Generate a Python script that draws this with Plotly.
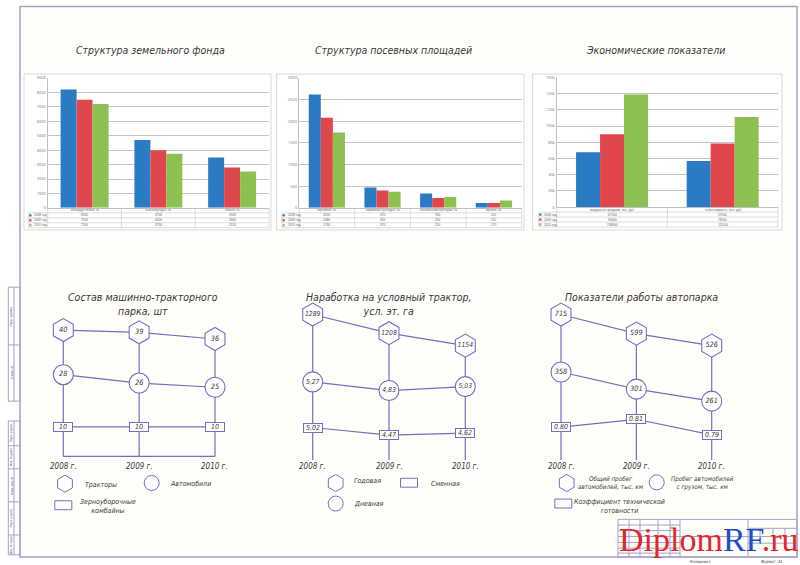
import plotly.graph_objects as go

W, H = 800, 565

# ---------------- top bar charts: data ----------------
series_names = ['2008 год', '2009 год', '2010 год']
bar_colors = ['#2b7bc4', '#e0474c', '#8cc152']

land_cats = ['площадь земли, га', 'сельхозугодья, га', 'пашня, га']
land_2008 = [8200, 4700, 3500]
land_2009 = [7500, 4000, 2800]
land_2010 = [7200, 3750, 2520]

crop_cats = ['зерновые, га', 'кормовые культуры, га', 'технические культуры, га', 'прочие, га']
crop_2008 = [2620, 470, 330, 110]
crop_2009 = [2080, 400, 230, 110]
crop_2010 = [1740, 370, 250, 170]

econ_cats = ['выручка от продажи, тыс. руб', 'себестоимость, тыс. руб']
econ_2008 = [67550, 57000]
econ_2009 = [90000, 78500]
econ_2010 = [138900, 111100]

# ---------------- bottom diagrams: data ----------------
diag_years = [2008, 2009, 2010]
year_labels = ['2008 г.', '2009 г.', '2010 г.']

mtp_tractors = [40, 39, 36]
mtp_cars = [28, 26, 25]
mtp_combines = [10, 10, 10]

work_year = [1289, 1208, 1154]
work_day = [5.27, 4.83, 5.03]
work_shift = [5.02, 4.47, 4.62]

auto_total = [715, 599, 526]
auto_cargo = [358, 301, 261]
auto_ktg = [0.80, 0.81, 0.79]

# ---------------- styles ----------------
LINE = '#6f6fc4'
FRAME = '#a3a3c8'
TXT = '#383838'
GOST = 'DejaVu Sans Condensed, DejaVu Sans, sans-serif'

fig = go.Figure()
shapes = []
notes = []


def px(x):
    return x / W


def py(y):
    return 1 - y / H


# page decorations are placed in paper units converted from pixels
def line(x0, y0, x1, y1, color=FRAME, width=1):
    shapes.append(dict(type='line', xref='paper', yref='paper', x0=px(x0), y0=py(y0), x1=px(x1), y1=py(y1),
                       line=dict(color=color, width=width)))


def rect(x0, y0, x1, y1, color=FRAME, width=1, fill=None, layer='above'):
    shapes.append(dict(type='rect', xref='paper', yref='paper', x0=px(x0), y0=py(y0), x1=px(x1), y1=py(y1),
                       line=dict(color=color, width=width), fillcolor=fill, layer=layer))


def text(x, y, s, size=8, color=TXT, anchor='center', italic=True, family=GOST, angle=0):
    notes.append(dict(xref='paper', yref='paper', x=px(x), y=py(y), text=('<i>%s</i>' % s) if italic else s,
                      showarrow=False, xanchor=anchor, yanchor='middle', textangle=angle,
                      font=dict(size=size, color=color, family=family)))


# ---------------- page frame ----------------
rect(20, 3.5, 797, 559, color=FRAME, width=1.5, fill='#fffefa', layer='below')

# left stamp column
rect(8.3, 286.7, 20, 401.7)
line(8.3, 345, 20, 345)
line(14, 286.7, 14, 401.7)
rect(8.3, 421.7, 20, 556.7)
for yy in [446.7, 470, 503.3, 536.7]:
    line(8.3, yy, 20, yy)
line(14, 421.7, 14, 556.7)
for yy, s in [(316, 'Перв. примен.'), (373, 'Справ. №'), (434, 'Подп. и дата'),
              (458, 'Инв. № дубл.'), (487, 'Взам. инв. №'), (520, 'Подп. и дата'),
              (547, 'Инв. № подл.')]:
    text(11.2, yy, s, size=3, angle=-90)

# title block
rect(618, 521, 797, 559)
for xx in [629, 640, 658, 670, 680]:
    line(xx, 521, xx, 559)
for yy in [526.7, 532.3, 538.3, 544.3, 550, 555]:
    line(618, yy, 680, yy)
line(748, 521, 748, 559)
line(680, 538.3, 797, 538.3)
line(748, 530, 797, 530)
for xx in [760, 773, 785]:
    line(xx, 530, xx, 538.3)
line(748, 545, 797, 545)
text(700, 563, 'Копировал', size=4)
text(771.7, 563, 'Формат  A1', size=4)

# ---------------- top bar charts ----------------
bar_charts = [
    dict(n='', cats=land_cats, vals=[land_2008, land_2009, land_2010], rng=[0, 9000], dt=1000,
         ax0=47.7, ax1=269, top=75.7, bot=206.7, tl=28.3, panel=(24, 71.7, 271, 229),
         title='Структура земельного фонда', tx=150),
    dict(n='2', cats=crop_cats, vals=[crop_2008, crop_2009, crop_2010], rng=[0, 3000], dt=500,
         ax0=299, ax1=521.7, top=75.7, bot=206.7, tl=281.7, panel=(276.7, 71.7, 524, 229),
         title='Структура посевных площадей', tx=393),
    dict(n='3', cats=econ_cats, vals=[econ_2008, econ_2009, econ_2010], rng=[0, 160000], dt=20000,
         ax0=556.7, ax1=778, top=75, bot=206, tl=538.3, panel=(532.7, 71.7, 782, 229),
         title='Экономические показатели', tx=655),
]

layout_axes = {}
for bc in bar_charts:
    n = bc['n']
    p = bc['panel']
    rect(p[0], p[1], p[2], p[3], color='#d9d9d9', width=1, fill='white', layer='below')
    text(bc['tx'], 47, bc['title'], size=10.5)
    for vals, name, col in zip(bc['vals'], series_names, bar_colors):
        fig.add_trace(go.Bar(x=bc['cats'], y=vals, name=name, marker=dict(color=col, line=dict(width=0)),
                             xaxis='x' + n, yaxis='y' + n, showlegend=False))
    layout_axes['xaxis' + n] = dict(domain=[px(bc['ax0']), px(bc['ax1'])], anchor='y' + n,
                                    showticklabels=False, showline=True, linecolor='#bfbfbf',
                                    showgrid=False, zeroline=False, fixedrange=True)
    layout_axes['yaxis' + n] = dict(domain=[py(bc['bot']), py(bc['top'])], anchor='x' + n,
                                    range=bc['rng'], dtick=bc['dt'], showgrid=True,
                                    gridcolor='#c4c4c4', gridwidth=0.7, showline=True,
                                    linecolor='#bfbfbf', zeroline=False, ticks='',
                                    tickfont=dict(size=4, color='#777777'), fixedrange=True)
    # data table under the plot
    r0 = bc['bot']
    rh = 5
    ncat = len(bc['cats'])
    cw = (bc['ax1'] - bc['ax0']) / ncat
    for k in range(1, 5):
        line(bc['tl'], r0 + k * rh, bc['ax1'], r0 + k * rh, color='#c8c8c8', width=0.6)
    line(bc['tl'], r0 + rh, bc['tl'], r0 + 4 * rh, color='#c8c8c8', width=0.6)
    for j in range(ncat + 1):
        line(bc['ax0'] + j * cw, r0, bc['ax0'] + j * cw, r0 + 4 * rh, color='#c8c8c8', width=0.6)
    for j, c in enumerate(bc['cats']):
        text(bc['ax0'] + (j + 0.5) * cw, r0 + rh / 2, c, size=3.2, color='#666666', italic=False,
             family='Liberation Sans, sans-serif')
    for i, (vals, name, col) in enumerate(zip(bc['vals'], series_names, bar_colors)):
        yy = r0 + (i + 1.5) * rh
        rect(bc['tl'] + 1, yy - 1, bc['tl'] + 3, yy + 1, color=col, width=0.3, fill=col)
        text(bc['tl'] + 4, yy, name, size=3.2, color='#666666', anchor='left', italic=False,
             family='Liberation Sans, sans-serif')
        for j, v in enumerate(vals):
            text(bc['ax0'] + (j + 0.5) * cw, yy, str(v), size=3.2, color='#666666', italic=False,
                 family='Liberation Sans, sans-serif')

# ---------------- bottom diagrams ----------------
def fmt_int(v):
    return '%d' % v


def fmt_comma(v):
    return ('%.2f' % v).replace('.', ',')


def fmt_dot(v):
    return '%.2f' % v


diagrams = [
    dict(ax='x5', x0=63.3, x2=215, bottom=457.5, base=True, title='Состав машинно-тракторного<br>парка, шт',
         ttx=143.3,
         series=[(mtp_tractors, 'hexagon', (330, 339), fmt_int),
                 (mtp_cars, 'circle', (375, 387.7), fmt_int),
                 (mtp_combines, 'rect', (427.7, 427.7), fmt_int)],
         legend=[('hexagon', 65, 485, 'Тракторы', 83.3, 486, 'left', 7),
                 ('circle', 151.7, 484.3, 'Автомобили', 168.3, 485, 'left', 7),
                 ('rect', 63.3, 506.7, 'Зерноуборочные<br>комбайны', 108, 507.5, 'center', 7)]),
    dict(ax='x6', x0=312.7, x2=465.3, bottom=461, base=False, title='Наработка на условный трактор,<br>усл. эт. га',
         ttx=388.3,
         series=[(work_year, 'hexagon', (314.3, 345.7), fmt_int),
                 (work_day, 'circle', (382.3, 391), fmt_comma),
                 (work_shift, 'rect', (428.3, 436), fmt_comma)],
         legend=[('hexagon', 335.7, 484.3, 'Годовая', 351.7, 482.3, 'left', 7),
                 ('rect', 409, 484, 'Сменная', 429, 485, 'left', 7),
                 ('circle', 335.7, 505, 'Дневная', 351.7, 505.7, 'left', 7)]),
    dict(ax='x7', x0=561, x2=711.7, bottom=461, base=False, title='Показатели работы автопарка',
         ttx=641.7,
         series=[(auto_total, 'hexagon', (314.3, 345.7), fmt_int),
                 (auto_cargo, 'circle', (372.3, 401.7), fmt_int),
                 (auto_ktg, 'rect', (420, 435.7), fmt_dot)],
         legend=[('hexagon', 566.7, 484.3, 'Общий пробег<br>автомобилей, тыс. км', 610.5, 483.5, 'center', 6.3),
                 ('circle', 656.7, 483.7, 'Пробег автомобилей<br>с грузом, тыс. км', 702, 484, 'center', 6.3),
                 ('rect', 563.3, 505, 'Коэффициент технической<br>готовности', 619, 507.5, 'center', 7)]),
]


def band_pos(vals, band):
    top, bot = band
    hi, lo = max(vals), min(vals)
    if hi == lo:
        return [top for _ in vals]
    return [top + (hi - v) / (hi - lo) * (bot - top) for v in vals]


for d in diagrams:
    ax = d['ax']
    span = d['x2'] - d['x0']
    pad = span / 8
    layout_axes['xaxis' + ax[1:]] = dict(domain=[px(d['x0'] - pad), px(d['x2'] + pad)],
                                         range=[2007.75, 2010.25], anchor='y4', visible=False,
                                         fixedrange=True)
    positions = [band_pos(vals, band) for vals, _, band, _ in d['series']]
    # vertical year lines from the top node down to the base
    vx, vy = [], []
    for i, yr in enumerate(diag_years):
        vx += [yr, yr, None]
        vy += [positions[0][i], d['bottom'], None]
    if d['base']:
        vx += [diag_years[0], diag_years[-1], None]
        vy += [d['bottom'], d['bottom'], None]
    fig.add_trace(go.Scatter(x=vx, y=vy, mode='lines', line=dict(color=LINE, width=1.2),
                             xaxis=ax, yaxis='y4', showlegend=False, hoverinfo='skip', cliponaxis=False))
    for (vals, sym, band, fmt), pos in zip(d['series'], positions):
        labels = [fmt(v) for v in vals]
        if sym == 'rect':
            fig.add_trace(go.Scatter(x=diag_years, y=pos, mode='lines', line=dict(color=LINE, width=1.2),
                                     xaxis=ax, yaxis='y4', showlegend=False, cliponaxis=False))
            for yr, yv, lab in zip(diag_years, pos, labels):
                notes.append(dict(xref=ax, yref='y4', x=yr, y=yv, text='<i>%s</i>' % lab,
                                  showarrow=False, bgcolor='white', bordercolor=LINE, borderwidth=1,
                                  borderpad=0.5, width=17, height=7,
                                  font=dict(size=7, color=TXT, family=GOST)))
        else:
            size = 23 if sym == 'hexagon' else 20
            fig.add_trace(go.Scatter(x=diag_years, y=pos, mode='lines+markers+text', text=labels,
                                     textposition='middle center',
                                     textfont=dict(size=6.8 if max(len(s) for s in labels) > 3 else 7.3,
                                                   color=TXT, family=GOST, style='italic'),
                                     marker=dict(symbol=sym, size=size, color='white',
                                                 line=dict(color=LINE, width=1.1)),
                                     line=dict(color=LINE, width=1.2),
                                     xaxis=ax, yaxis='y4', showlegend=False, cliponaxis=False))
    # year labels
    for yr, lab in zip(diag_years, year_labels):
        notes.append(dict(xref=ax, yref='y4', x=yr, y=468, text='<i>%s</i>' % lab, showarrow=False,
                          font=dict(size=8, color=TXT, family=GOST)))
    text(d['ttx'], 303.3 if '<br>' in d['title'] else 296.7, d['title'], size=10.5)
    # legend
    for sym, lx, ly, lt, tx, ty, anc, fs in d['legend']:
        if sym == 'rect':
            rect(lx - 8.5, ly - 4.5, lx + 8.5, ly + 4.5, color=LINE, width=1, fill='white')
        else:
            fig.add_trace(go.Scatter(x=[lx], y=[ly], mode='markers',
                                     marker=dict(symbol=sym, size=17 if sym == 'hexagon' else 15,
                                                 color='white', line=dict(color=LINE, width=1)),
                                     xaxis='x4', yaxis='y4', showlegend=False, cliponaxis=False))
        text(tx, ty, lt, size=fs, anchor=anc)

# watermark
text(709, 541, '<span style="color:#e3262d">Diplom</span><span style="color:#1d4fc4">RF</span>'
     '<span style="color:#e3262d">.ru</span>', size=34, italic=False,
     family='Liberation Serif, serif')

fig.update_layout(
    width=W, height=H,
    margin=dict(l=0, r=0, t=0, b=0),
    paper_bgcolor='white',
    plot_bgcolor='rgba(0,0,0,0)',
    bargap=0.35, bargroupgap=0,
    xaxis4=dict(domain=[0, 1], range=[0, W], anchor='y4', visible=False, fixedrange=True),
    yaxis4=dict(domain=[0, 1], range=[H, 0], anchor='x4', visible=False, fixedrange=True),
    shapes=shapes,
    annotations=notes,
    showlegend=False,
    **layout_axes,
)

fig.write_html('out.html', config={'displayModeBar': False},
               post_script="document.body.style.margin='0';")
